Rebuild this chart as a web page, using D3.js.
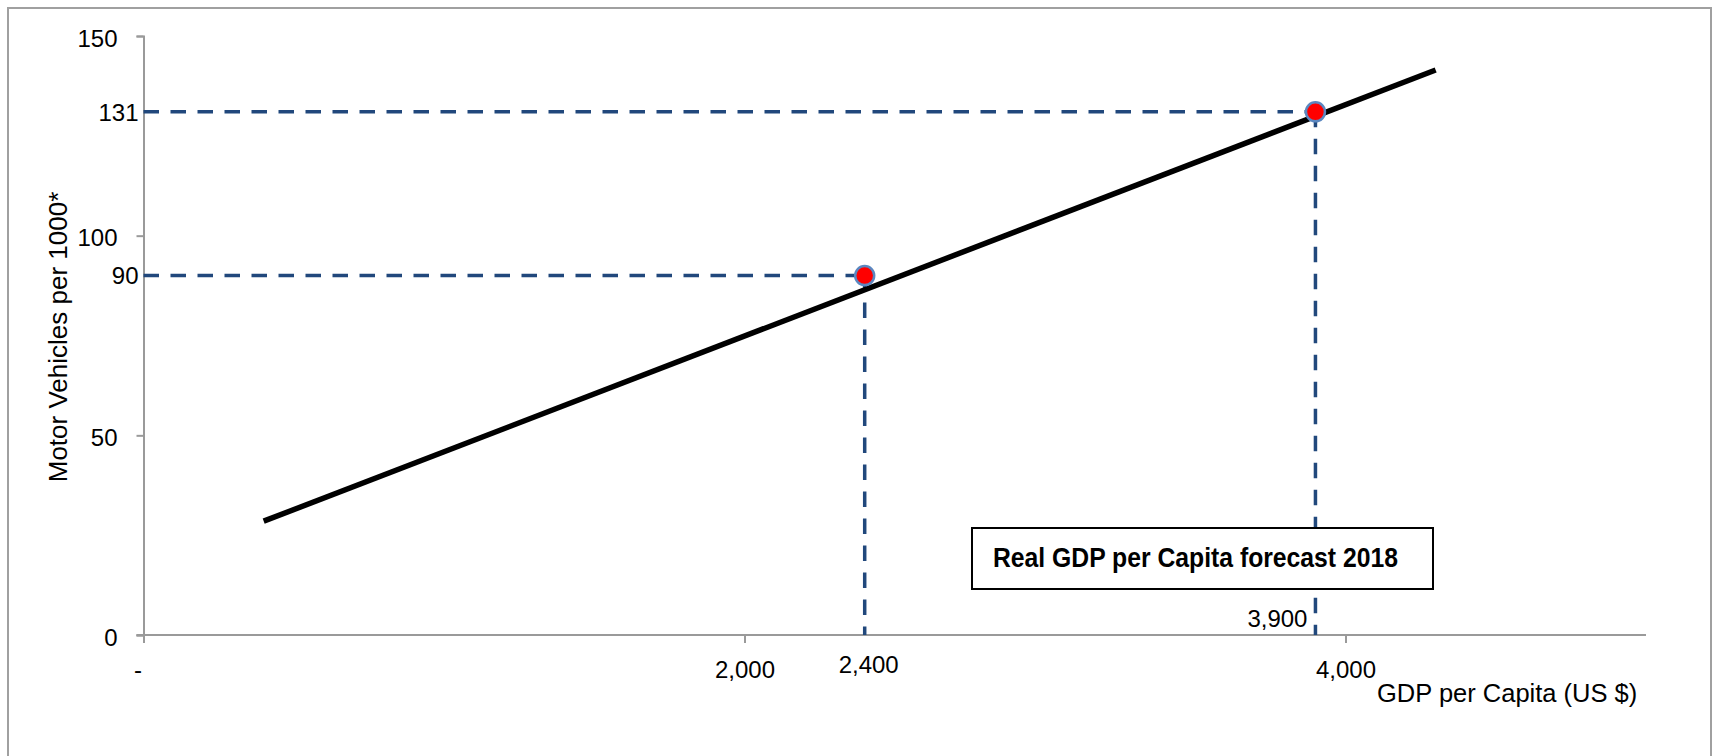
<!DOCTYPE html>
<html>
<head>
<meta charset="utf-8">
<script src="https://cdn.jsdelivr.net/npm/d3@7/dist/d3.min.js"></script>
<style>
  html, body { margin: 0; padding: 0; background: #ffffff; }
  svg { display: block; }
  text { font-family: "Liberation Sans", Arial, sans-serif; fill: #000; }
</style>
</head>
<body>
<svg id="chart" width="1715" height="756"></svg>
<script>
// Axis ticks
const yTicks = [0, 50, 100, 150];
const xTicks = [0, 2000, 4000];
const xTickLabels = ["-", "2,000", "4,000"];

// Fitted trend line: motor vehicles per 1000 vs GDP per capita
const trendX = [400, 4300];
const trendY = [28.5, 141.5];

// Highlighted points (current and 2018 forecast)
const pointX = [2400, 3900];
const pointY = [90, 131];
const pointXLabels = ["2,400", "3,900"];
const pointYLabels = ["90", "131"];

const boxText = "Real GDP per Capita forecast 2018";
const xTitle = "GDP per Capita (US $)";
const yTitle = "Motor Vehicles per 1000*";

const svg = d3.select("#chart");

const x = d3.scaleLinear().domain([0, 5000]).range([143.5, 1646]);
const y = d3.scaleLinear().domain([0, 150]).range([635, 36]);

// Outer frame
svg.append("rect")
  .attr("x", 8).attr("y", 8)
  .attr("width", 1703).attr("height", 770)
  .attr("fill", "#fff").attr("stroke", "#a0a0a0").attr("stroke-width", 2);

const axisColor = "#9a9a9a";

// Y axis
const yAxis = svg.append("g")
  .attr("transform", `translate(${x(0)},0)`)
  .call(d3.axisLeft(y).tickValues(yTicks).tickSize(7).tickPadding(19)
    .tickFormat(d3.format(",")));
yAxis.select(".domain").attr("stroke", axisColor).attr("stroke-width", 2);
yAxis.selectAll(".tick line").attr("stroke", axisColor).attr("stroke-width", 2);
yAxis.selectAll(".tick text")
  .attr("font-family", "Liberation Sans, Arial, sans-serif")
  .attr("font-size", 24).attr("fill", "#000").attr("dy", "0.42em");

// X axis
const xAxis = svg.append("g")
  .attr("transform", `translate(0,${y(0)})`)
  .call(d3.axisBottom(x).tickValues(xTicks).tickSize(8).tickPadding(18)
    .tickFormat((d, i) => xTickLabels[i]));
xAxis.select(".domain").attr("stroke", axisColor).attr("stroke-width", 2)
  .attr("d", `M${x(0) - 7},0H${x(5000)}`);
xAxis.selectAll(".tick line").attr("stroke", axisColor).attr("stroke-width", 2);
xAxis.selectAll(".tick text")
  .attr("font-family", "Liberation Sans, Arial, sans-serif")
  .attr("font-size", 24).attr("fill", "#000")
  .attr("dx", (d, i) => i === 0 ? -6 : 0);

// Axis titles
svg.append("text")
  .attr("x", 1377).attr("y", 702)
  .attr("font-size", 25.5)
  .text(xTitle);

svg.append("text")
  .attr("transform", "translate(67,337) rotate(-90)")
  .attr("text-anchor", "middle")
  .attr("font-size", 26)
  .text(yTitle);

// Dashed guide lines from each point to both axes
const dashColor = "#21487c";
const guides = svg.append("g")
  .attr("stroke", dashColor).attr("stroke-width", 3.5)
  .attr("stroke-dasharray", "15.5 11.5").attr("fill", "none");

pointX.forEach((px, i) => {
  guides.append("line")
    .attr("x1", x(0)).attr("y1", y(pointY[i]))
    .attr("x2", x(px)).attr("y2", y(pointY[i]));
  guides.append("line")
    .attr("x1", x(px)).attr("y1", y(pointY[i]))
    .attr("x2", x(px)).attr("y2", y(0));
});

// Trend line
const line = d3.line().x(d => x(d[0])).y(d => y(d[1]));
svg.append("path")
  .datum(trendX.map((v, i) => [v, trendY[i]]))
  .attr("d", line)
  .attr("fill", "none").attr("stroke", "#000").attr("stroke-width", 5.5);

// Points
svg.append("g").selectAll("circle")
  .data(pointX.map((v, i) => [v, pointY[i]]))
  .join("circle")
  .attr("cx", d => x(d[0])).attr("cy", d => y(d[1]))
  .attr("r", 9.5)
  .attr("fill", "#ff0000")
  .attr("stroke", "#5b87c0").attr("stroke-width", 2.5);

// Value labels on the axes
svg.append("g").selectAll("text")
  .data(pointY)
  .join("text")
  .attr("x", x(0) - 5)
  .attr("y", d => y(d))
  .attr("dy", "0.36em")
  .attr("text-anchor", "end")
  .attr("font-size", 24)
  .text((d, i) => pointYLabels[i]);

svg.append("text")
  .attr("x", x(pointX[0]) + 4).attr("y", 673)
  .attr("text-anchor", "middle").attr("font-size", 24)
  .text(pointXLabels[0]);

svg.append("text")
  .attr("x", x(pointX[1]) - 8).attr("y", 627)
  .attr("text-anchor", "end").attr("font-size", 24)
  .text(pointXLabels[1]);

// Forecast annotation box
const box = svg.append("g");
box.append("rect")
  .attr("x", 972).attr("y", 528)
  .attr("width", 461).attr("height", 61)
  .attr("fill", "#fff").attr("stroke", "#000").attr("stroke-width", 2);
box.append("text")
  .attr("x", 993).attr("y", 567)
  .attr("font-family", "Lato, 'Open Sans', sans-serif")
  .attr("font-weight", "bold")
  .attr("font-size", 27)
  .attr("textLength", 405)
  .attr("lengthAdjust", "spacingAndGlyphs")
  .text(boxText);
</script>
</body>
</html>
